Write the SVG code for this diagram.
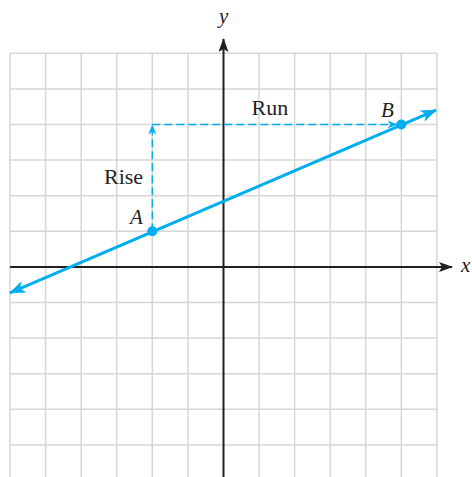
<svg xmlns="http://www.w3.org/2000/svg" width="472" height="477" viewBox="0 0 472 477">
<style>
.grid line{stroke:#d6d6d6;stroke-width:1.5}
.axis{stroke:#231f20;stroke-width:2;fill:none}
.blue{stroke:#00aeef;stroke-width:3;fill:none}
.dash{stroke:#00aeef;stroke-width:1.5;fill:none;stroke-dasharray:8 4}
.pt{fill:#00aeef}
.lbl{font-family:"Liberation Serif","Times New Roman",serif;font-size:21px;fill:#231f20}
.big{font-size:22px}
.it{font-style:italic}
</style>
<defs>
<marker id="ablack" markerWidth="14" markerHeight="10" refX="13" refY="5" orient="auto" markerUnits="userSpaceOnUse">
<path d="M0,0 L14,5 L0,10 L3,5 z" fill="#231f20"/>
</marker>
<marker id="ablue" markerWidth="16" markerHeight="12" refX="15" refY="6" orient="auto-start-reverse" markerUnits="userSpaceOnUse">
<path d="M0,0 L16,6 L0,12 L4,6 z" fill="#00aeef"/>
</marker>
<marker id="ablues" markerWidth="10" markerHeight="8" refX="9.5" refY="4" orient="auto" markerUnits="userSpaceOnUse">
<path d="M0,0 L10,4 L0,8 L3,4 z" fill="#00aeef"/>
</marker>
</defs>
<rect width="472" height="477" fill="#fff"/>
<g class="grid">
<line x1="10" y1="53.3" x2="10" y2="477"/>
<line x1="45.6" y1="53.3" x2="45.6" y2="477"/>
<line x1="81.2" y1="53.3" x2="81.2" y2="477"/>
<line x1="116.7" y1="53.3" x2="116.7" y2="477"/>
<line x1="152.3" y1="53.3" x2="152.3" y2="477"/>
<line x1="187.9" y1="53.3" x2="187.9" y2="477"/>
<line x1="259" y1="53.3" x2="259" y2="477"/>
<line x1="294.6" y1="53.3" x2="294.6" y2="477"/>
<line x1="330.2" y1="53.3" x2="330.2" y2="477"/>
<line x1="365.7" y1="53.3" x2="365.7" y2="477"/>
<line x1="401.3" y1="53.3" x2="401.3" y2="477"/>
<line x1="436.9" y1="53.3" x2="436.9" y2="477"/>
<line x1="10" y1="53.3" x2="436.9" y2="53.3"/>
<line x1="10" y1="88.9" x2="436.9" y2="88.9"/>
<line x1="10" y1="124.5" x2="436.9" y2="124.5"/>
<line x1="10" y1="160.1" x2="436.9" y2="160.1"/>
<line x1="10" y1="195.7" x2="436.9" y2="195.7"/>
<line x1="10" y1="231.3" x2="436.9" y2="231.3"/>
<line x1="10" y1="302.5" x2="436.9" y2="302.5"/>
<line x1="10" y1="338.1" x2="436.9" y2="338.1"/>
<line x1="10" y1="373.7" x2="436.9" y2="373.7"/>
<line x1="10" y1="409.3" x2="436.9" y2="409.3"/>
<line x1="10" y1="444.9" x2="436.9" y2="444.9"/>
</g>
<g id="axes">
<line class="axis" x1="223.5" y1="477" x2="223.5" y2="39" marker-end="url(#ablack)"/>
<line class="axis" x1="10" y1="267" x2="452" y2="267" marker-end="url(#ablack)"/>
<text class="lbl it" x="219" y="23">y</text>
<text class="lbl it" x="461" y="272">x</text>
</g>
<g id="connectors">
<line class="blue" x1="10" y1="292.8" x2="436" y2="110.2" marker-start="url(#ablue)" marker-end="url(#ablue)"/>
<line class="dash" x1="152.3" y1="231.3" x2="152.3" y2="125" marker-end="url(#ablues)"/>
<line class="dash" x1="152.3" y1="124.5" x2="397" y2="124.5" marker-end="url(#ablues)"/>
</g>
<g id="pointA">
<circle class="pt" cx="152.3" cy="231.3" r="5"/>
<text class="lbl it" x="130" y="224">A</text>
</g>
<g id="pointB">
<circle class="pt" cx="401.3" cy="124.5" r="5"/>
<text class="lbl it" x="381" y="117">B</text>
</g>
<g id="labels">
<text class="lbl big" x="104" y="183.5">Rise</text>
<text class="lbl big" x="251.5" y="115">Run</text>
</g>
</svg>
